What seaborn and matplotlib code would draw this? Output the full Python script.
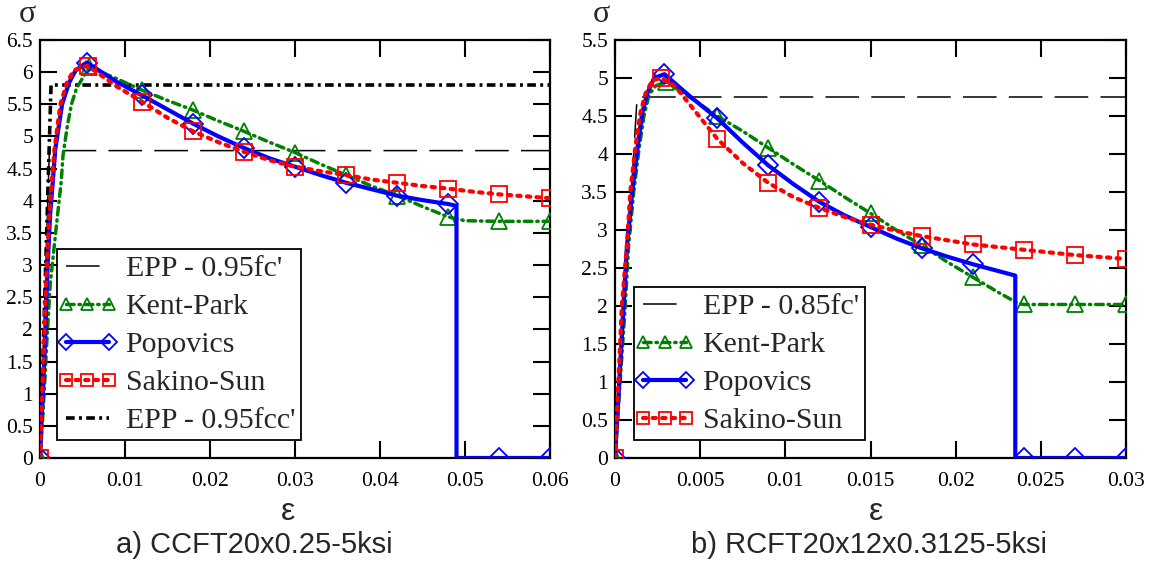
import numpy as np
import pandas as pd
import matplotlib
matplotlib.use("Agg")
import matplotlib.pyplot as plt
from matplotlib.legend_handler import HandlerLine2D
import seaborn as sns

# ---------------- data: panel a) CCFT20x0.25-5ksi ----------------
a_epp_fc_eps = [0.0, 0.0011, 0.060]
a_epp_fc_sig = [0.0, 4.78, 4.78]
a_epp_fcc_eps = [0.0, 0.0013, 0.060]
a_epp_fcc_sig = [0.0, 5.80, 5.80]

a_kp_eps = [0, 0.0004, 0.0008, 0.0012, 0.0016, 0.002, 0.0025, 0.0027, 0.0032, 0.0037, 0.0043,
            0.0058, 0.009, 0.012, 0.015, 0.018, 0.021, 0.024, 0.027, 0.030, 0.033, 0.036,
            0.039, 0.042, 0.045, 0.048, 0.050, 0.054, 0.060]
a_kp_sig = [0, 0.8, 1.8, 2.7, 3.2, 3.7, 4.3, 4.7, 5.15, 5.5, 5.75,
            6.08, 5.9, 5.72, 5.56, 5.41, 5.24, 5.08, 4.91, 4.75, 4.57, 4.40,
            4.23, 4.08, 3.91, 3.75, 3.69, 3.68, 3.68]
a_kp_mk = [0, 0.0058, 0.012, 0.018, 0.024, 0.030, 0.036, 0.042, 0.048, 0.054, 0.060]

a_pop_eps = [0, 0.0005, 0.0009, 0.0012, 0.00145, 0.0018, 0.0026, 0.0034, 0.0042, 0.0055,
             0.009, 0.012, 0.015, 0.018, 0.021, 0.024, 0.027, 0.030, 0.033, 0.036, 0.039,
             0.042, 0.045, 0.048, 0.049, 0.049, 0.054, 0.060]
a_pop_sig = [0, 1.5, 3.0, 3.8, 4.2, 4.8, 5.5, 5.83, 6.03, 6.15,
             5.85, 5.64, 5.42, 5.2, 5.0, 4.82, 4.66, 4.53, 4.40, 4.28, 4.18,
             4.08, 4.01, 3.95, 3.92, 0, 0, 0]
a_pop_mk = [0, 0.0055, 0.012, 0.018, 0.024, 0.030, 0.036, 0.042, 0.048, 0.054, 0.060]

a_ss_eps = [0, 0.0004, 0.0008, 0.0011, 0.0014, 0.0017, 0.0024, 0.0032, 0.004, 0.0056,
            0.009, 0.012, 0.015, 0.018, 0.021, 0.024, 0.027, 0.030, 0.033, 0.036,
            0.039, 0.042, 0.045, 0.048, 0.051, 0.054, 0.057, 0.060]
a_ss_sig = [0, 1.5, 3.0, 3.8, 4.3, 4.8, 5.5, 5.85, 6.03, 6.1,
            5.78, 5.54, 5.29, 5.08, 4.91, 4.76, 4.63, 4.53, 4.46, 4.40,
            4.33, 4.28, 4.23, 4.19, 4.14, 4.10, 4.07, 4.04]
a_ss_mk = [0, 0.0056, 0.012, 0.018, 0.024, 0.030, 0.036, 0.042, 0.048, 0.054, 0.060]

# ---------------- data: panel b) RCFT20x12x0.3125-5ksi ----------------
b_epp_eps = [0.0, 0.0013, 0.030]
b_epp_sig = [0.0, 4.75, 4.75]

b_kp_eps = [0, 0.0003, 0.0006, 0.0008, 0.0011, 0.0014, 0.0017, 0.002, 0.0024, 0.003,
            0.0045, 0.006, 0.0075, 0.009, 0.0105, 0.012, 0.0135, 0.015, 0.0165, 0.018,
            0.0195, 0.021, 0.0225, 0.0237, 0.024, 0.027, 0.030]
b_kp_sig = [0, 1.0, 2.0, 2.8, 3.5, 4.05, 4.5, 4.78, 4.9, 4.95,
            4.73, 4.5, 4.3, 4.08, 3.86, 3.65, 3.43, 3.22, 3.0, 2.8,
            2.58, 2.38, 2.18, 2.03, 2.02, 2.02, 2.02]
b_kp_mk = [0, 0.003, 0.006, 0.009, 0.012, 0.015, 0.018, 0.021, 0.024, 0.027, 0.030]

b_pop_eps = [0, 0.0003, 0.0005, 0.0007, 0.001, 0.0013, 0.0016, 0.0019, 0.0023, 0.0029,
             0.0045, 0.006, 0.0075, 0.009, 0.0105, 0.012, 0.0135, 0.015, 0.0165, 0.018,
             0.0195, 0.021, 0.0225, 0.0235, 0.0235, 0.024, 0.027, 0.030]
b_pop_sig = [0, 1.2, 2.0, 2.78, 3.49, 4.05, 4.54, 4.8, 5.0, 5.05,
             4.74, 4.47, 4.15, 3.85, 3.6, 3.37, 3.19, 3.04, 2.89, 2.76,
             2.65, 2.55, 2.46, 2.40, 0, 0, 0, 0]
b_pop_mk = [0, 0.0029, 0.006, 0.009, 0.012, 0.015, 0.018, 0.021, 0.024, 0.027, 0.030]

b_ss_eps = [0, 0.0002, 0.0004, 0.0007, 0.0009, 0.0012, 0.0015, 0.0018, 0.0022, 0.0027,
            0.0035, 0.0045, 0.006, 0.0075, 0.009, 0.0105, 0.012, 0.0135, 0.015, 0.0165,
            0.018, 0.021, 0.024, 0.027, 0.030]
b_ss_sig = [0, 1.0, 2.0, 2.8, 3.5, 4.1, 4.55, 4.8, 4.97, 5.0,
            4.9, 4.62, 4.2, 3.88, 3.62, 3.43, 3.29, 3.17, 3.07, 2.99,
            2.92, 2.81, 2.74, 2.67, 2.62]
b_ss_mk = [0, 0.0027, 0.006, 0.009, 0.012, 0.015, 0.018, 0.021, 0.024, 0.027, 0.030]

# ---------------- text ----------------
a_labels = ["EPP - 0.95fc'", "Kent-Park", "Popovics", "Sakino-Sun", "EPP - 0.95fcc'"]
b_labels = ["EPP - 0.85fc'", "Kent-Park", "Popovics", "Sakino-Sun"]
a_title = "a) CCFT20x0.25-5ksi"
b_title = "b) RCFT20x12x0.3125-5ksi"
a_xticks = [0, 0.01, 0.02, 0.03, 0.04, 0.05, 0.06]
a_xticklabels = ["0", "0.01", "0.02", "0.03", "0.04", "0.05", "0.06"]
a_yticks = [0, 0.5, 1, 1.5, 2, 2.5, 3, 3.5, 4, 4.5, 5, 5.5, 6, 6.5]
a_yticklabels = ["0", "0.5", "1", "1.5", "2", "2.5", "3", "3.5", "4", "4.5", "5", "5.5", "6", "6.5"]
b_xticks = [0, 0.005, 0.01, 0.015, 0.02, 0.025, 0.03]
b_xticklabels = ["0", "0.005", "0.01", "0.015", "0.02", "0.025", "0.03"]
b_yticks = [0, 0.5, 1, 1.5, 2, 2.5, 3, 3.5, 4, 4.5, 5, 5.5]
b_yticklabels = ["0", "0.5", "1", "1.5", "2", "2.5", "3", "3.5", "4", "4.5", "5", "5.5"]

# ---------------- style ----------------
sns.set_style("ticks")
plt.rcParams["font.family"] = ["Liberation Serif", "DejaVu Serif"]

W, H = 1151, 561
fig = plt.figure(figsize=(W / 100, H / 100), dpi=100)
axA = fig.add_axes([40 / W, (H - 458) / H, 510 / W, 418 / H])
axB = fig.add_axes([615 / W, (H - 458) / H, 511 / W, 418 / H])

GREEN = "#008000"
BLUE = "#0000ff"
RED = "#ff0000"


def mark_idx(eps, mk):
    idx = []
    for m in mk:
        for i, e in enumerate(eps):
            if abs(e - m) < 1e-9 and i not in idx:
                idx.append(i)
                break
    return idx


def draw(ax, eps, sig, **kw):
    df = pd.DataFrame({"eps": eps, "sig": sig})
    sns.lineplot(data=df, x="eps", y="sig", ax=ax, estimator=None, sort=False,
                 legend=False, **kw)
    return ax.lines[-1]


def epp(ax, eps, sig):
    return draw(ax, eps, sig, color="black", linewidth=1.1,
                linestyle=(0, (22, 8)), zorder=2)


def epp_cc(ax, eps, sig):
    return draw(ax, eps, sig, color="black", linewidth=2.6,
                linestyle=(0, (2.4, 1.2, 0.8, 1.2)), zorder=2.5)


def kent(ax, eps, sig, mk):
    return draw(ax, eps, sig, color=GREEN, linewidth=2.5,
                linestyle=(0, (2.2, 1.4, 0.4, 1.4)), dash_capstyle="round",
                marker="^", markersize=11, markerfacecolor="none",
                markeredgecolor=GREEN, markeredgewidth=1.3,
                markevery=mark_idx(eps, mk), zorder=3)


def popo(ax, eps, sig, mk):
    return draw(ax, eps, sig, color=BLUE, linewidth=3.0, linestyle="-",
                marker="D", markersize=10, markerfacecolor="none",
                markeredgecolor=BLUE, markeredgewidth=1.3,
                markevery=mark_idx(eps, mk), zorder=4)


def sakino(ax, eps, sig, mk):
    return draw(ax, eps, sig, color=RED, linewidth=3.0,
                linestyle=(0, (0.8, 1.5)), dash_capstyle="round",
                marker="s", markersize=11, markerfacecolor="none",
                markeredgecolor=RED, markeredgewidth=1.3,
                markevery=mark_idx(eps, mk), zorder=5)


# panel a
hA = [epp(axA, a_epp_fc_eps, a_epp_fc_sig),
      kent(axA, a_kp_eps, a_kp_sig, a_kp_mk),
      popo(axA, a_pop_eps, a_pop_sig, a_pop_mk),
      sakino(axA, a_ss_eps, a_ss_sig, a_ss_mk),
      epp_cc(axA, a_epp_fcc_eps, a_epp_fcc_sig)]
# panel b
hB = [epp(axB, b_epp_eps, b_epp_sig),
      kent(axB, b_kp_eps, b_kp_sig, b_kp_mk),
      popo(axB, b_pop_eps, b_pop_sig, b_pop_mk),
      sakino(axB, b_ss_eps, b_ss_sig, b_ss_mk)]


def style_axes(ax, xt, xtl, yt, ytl, xmax, ymax):
    ax.set_xlim(0, xmax)
    ax.set_ylim(0, ymax)
    ax.set_xticks(xt)
    ax.set_xticklabels(xtl)
    ax.set_yticks(yt)
    ax.set_yticklabels(ytl)
    ax.set_xlabel("")
    ax.set_ylabel("")
    ax.tick_params(axis="both", which="major", direction="in", length=12, width=1.5,
                   labelsize=15.5, top=True, right=True, colors="black")
    ax.tick_params(axis="x", pad=10)
    ax.tick_params(axis="y", pad=5)
    for s in ax.spines.values():
        s.set_visible(True)
        s.set_linewidth(1.6)
        s.set_color("black")
    ax.set_facecolor("white")


style_axes(axA, a_xticks, a_xticklabels, a_yticks, a_yticklabels, 0.06, 6.5)
style_axes(axB, b_xticks, b_xticklabels, b_yticks, b_yticklabels, 0.03, 5.5)

leg_kw = dict(loc="lower left", borderaxespad=0, fontsize=21.5, labelspacing=0.37,
              handlelength=1.65, handletextpad=0.45, borderpad=0.2,
              fancybox=False, framealpha=1, edgecolor="black", numpoints=3,
              markerscale=0.85)


def hmap(handles):
    m = {h: HandlerLine2D(numpoints=3, marker_pad=0.1) for h in handles}
    m[handles[2]] = HandlerLine2D(numpoints=2, marker_pad=0.1)
    return m


legA = axA.legend(hA, a_labels, bbox_to_anchor=(0.033, 0.043),
                  handler_map=hmap(hA), **leg_kw)
legB = axB.legend(hB, b_labels, bbox_to_anchor=(0.037, 0.043),
                  handler_map=hmap(hB), **leg_kw)
for lg in (legA, legB):
    lg.get_frame().set_linewidth(1.3)
    lg.set_zorder(10)

# axis symbols and captions
fs_sym = 23
fig.text(27 / W, 1 - 14 / H, "σ", fontsize=fs_sym, ha="center", va="center")
fig.text(601 / W, 1 - 14 / H, "σ", fontsize=fs_sym, ha="center", va="center")
fig.text(288 / W, 1 - 512 / H, "ε", fontsize=fs_sym, ha="center", va="center",
         family=["Liberation Sans", "DejaVu Sans"])
fig.text(876 / W, 1 - 512 / H, "ε", fontsize=fs_sym, ha="center", va="center",
         family=["Liberation Sans", "DejaVu Sans"])
fig.text(254 / W, 1 - 545 / H, a_title, fontsize=21, ha="center", va="center",
         family=["Liberation Sans", "DejaVu Sans"])
fig.text(869 / W, 1 - 545 / H, b_title, fontsize=21, ha="center", va="center",
         family=["Liberation Sans", "DejaVu Sans"])

fig.savefig("out.png", dpi=100, facecolor="white")
